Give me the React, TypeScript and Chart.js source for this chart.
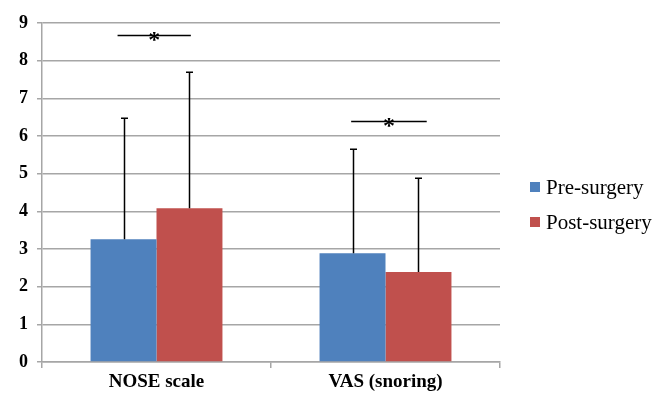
import React, { useEffect, useRef } from "react";
import { Chart, registerables } from "chart.js";

Chart.register(...registerables);

const categories = ["NOSE scale", "VAS (snoring)"];
const seriesNames = ["Pre-surgery", "Post-surgery"];
const preValues = [3.26, 2.89];
const postValues = [4.08, 2.39];
const preSD = [3.21, 2.76];
const postSD = [3.61, 2.49];
const sigLevels = [8.68, 6.39];
const sigStart = [-0.17, -0.15];
const sigEnd = [0.15, 0.18];
const yTicks = [0, 1, 2, 3, 4, 5, 6, 7, 8, 9];

const BLUE = "#4F81BD";
const RED = "#C0504D";
const GRID = "#A6A6A6";
const FONT = "'Liberation Serif', 'Times New Roman', serif";

const sdSets = [preSD, postSD];

const overlayPlugin = {
  id: "overlay",
  afterDatasetsDraw(chart: any) {
    const ctx = chart.ctx;
    const y = chart.scales.y;
    const x = chart.scales.x;
    ctx.save();
    // error bars
    chart.data.datasets.forEach((ds: any, di: number) => {
      const meta = chart.getDatasetMeta(di);
      meta.data.forEach((bar: any, i: number) => {
        const top = y.getPixelForValue(ds.data[i] + sdSets[di][i]);
        const bx = Math.round(bar.x) + 0.5;
        ctx.strokeStyle = "#000";
        ctx.lineWidth = 1.5;
        ctx.beginPath();
        ctx.moveTo(bx, bar.y);
        ctx.lineTo(bx, top);
        ctx.moveTo(bx - 3.5, top);
        ctx.lineTo(bx + 3.5, top);
        ctx.stroke();
      });
    });
    // significance marks
    sigLevels.forEach((lvl, i) => {
      const py = Math.round(y.getPixelForValue(lvl)) + 0.5;
      const x1 = x.getPixelForValue(i + sigStart[i]);
      const x2 = x.getPixelForValue(i + sigEnd[i]);
      ctx.strokeStyle = "#000";
      ctx.lineWidth = 1.5;
      ctx.beginPath();
      ctx.moveTo(x1, py);
      ctx.lineTo(x2, py);
      ctx.stroke();
      ctx.fillStyle = "#000";
      ctx.font = `bold 24px ${FONT}`;
      ctx.textAlign = "center";
      ctx.textBaseline = "middle";
      ctx.fillText("*", (x1 + x2) / 2, py + 5);
    });
    // legend
    const colors = [BLUE, RED];
    const legY = [187, 222];
    seriesNames.forEach((name, i) => {
      const ly = legY[i];
      ctx.fillStyle = colors[i];
      ctx.fillRect(530, ly - 5, 10, 10);
      ctx.fillStyle = "#000";
      ctx.font = `21px ${FONT}`;
      ctx.textAlign = "left";
      ctx.textBaseline = "middle";
      ctx.fillText(name, 546, ly + 1);
    });
    ctx.restore();
  },
};

export default function App() {
  const ref = useRef<HTMLCanvasElement | null>(null);
  useEffect(() => {
    document.body.style.margin = "0";
    const canvas = ref.current!;
    const chart = new Chart(canvas, {
      type: "bar",
      data: {
        labels: categories,
        datasets: [
          {
            label: seriesNames[0],
            data: preValues,
            backgroundColor: BLUE,
            categoryPercentage: 0.576,
            barPercentage: 1,
          },
          {
            label: seriesNames[1],
            data: postValues,
            backgroundColor: RED,
            categoryPercentage: 0.576,
            barPercentage: 1,
          },
        ],
      },
      options: {
        responsive: false,
        animation: false,
        layout: { padding: { top: 23, right: 168, left: 0, bottom: 0 } },
        plugins: {
          legend: { display: false },
          tooltip: { enabled: false },
        },
        scales: {
          x: {
            grid: {
              display: true,
              drawOnChartArea: false,
              drawTicks: true,
              tickLength: 6,
              offset: true,
              color: GRID,
              lineWidth: 1.5,
            },
            border: { display: true, color: GRID, width: 1.5 },
            ticks: {
              color: "#000",
              padding: 3,
              font: { family: FONT, size: 19, weight: "bold" },
            },
            afterFit(scale: any) {
              scale.height = 32;
            },
          },
          y: {
            min: 0,
            max: 9,
            afterBuildTicks(scale: any) {
              scale.ticks = yTicks.map((v) => ({ value: v }));
            },
            grid: {
              color: GRID,
              lineWidth: 1.5,
              tickLength: 5,
            },
            border: { display: true, color: GRID, width: 1.5 },
            ticks: {
              color: "#000",
              padding: 9,
              font: { family: FONT, size: 18, weight: "bold" },
            },
            afterFit(scale: any) {
              scale.width = 42;
            },
          },
        },
      },
      plugins: [overlayPlugin],
    } as any);
    return () => chart.destroy();
  }, []);
  return (
    <div style={{ width: 668, height: 394, background: "#fff" }}>
      <canvas ref={ref} width={668} height={394} />
    </div>
  );
}
